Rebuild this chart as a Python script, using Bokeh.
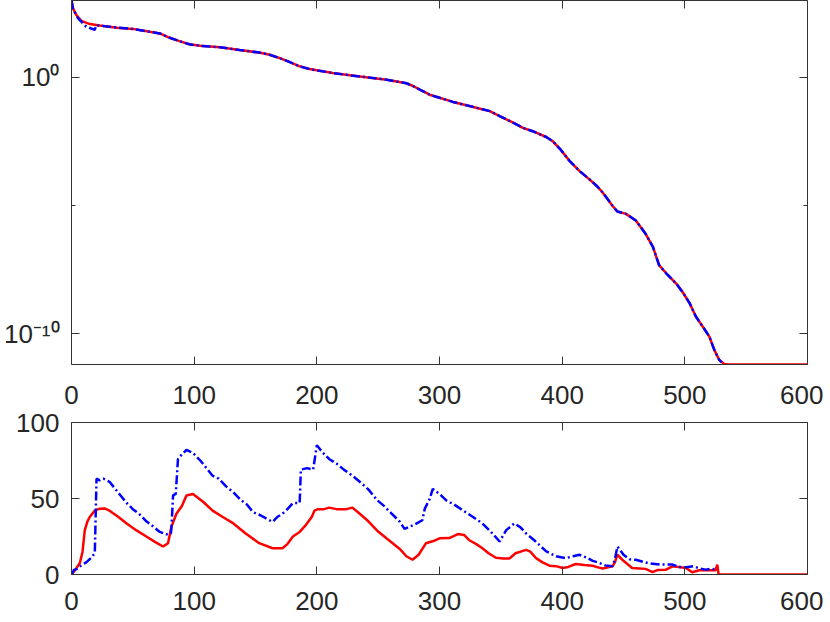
from bokeh.plotting import figure
from bokeh.layouts import column
from bokeh.models import FixedTicker, LinearAxis, LogAxis, Range1d
from bokeh.embed import file_html
from bokeh.resources import INLINE

# ---------------- data ----------------
# top panel: residual (log scale)
top_red_x = [0, 1.3, 4, 8, 15, 23, 37, 50, 64, 72, 80, 88, 96, 105, 121, 137, 153,
             161.5, 170, 178, 186, 194, 213, 227, 240, 257, 273, 278, 284, 292, 300,
             311, 322, 333, 341, 349, 360, 368, 376, 387, 392, 398, 406, 414, 422,
             428, 433, 441, 445, 452, 460, 468, 474, 479, 485, 493, 498, 504, 509,
             514.5, 520, 524, 528, 532, 536, 600]
top_red_y = [1.0e3, 4.9e2, 2.7e2, 1.6e2, 1.2e2, 1.05e2, 8.7e1, 7.8e1, 6.0e1, 5.2e1,
             3.5e1, 2.6e1, 1.95e1, 1.7e1, 1.5e1, 1.17e1, 9.3, 7.6, 5.6, 3.9, 2.7, 2.1,
             1.48, 1.2, 1.02, 0.81, 0.59, 0.47, 0.33, 0.21, 0.16, 0.11, 0.081, 0.060,
             0.048, 0.031, 0.017, 0.0107, 0.0079, 0.0047, 0.0033, 0.00166, 5.5e-4,
             2.24e-4, 1.07e-4, 5.9e-5, 3.2e-5, 9.8e-6, 5.8e-6, 4.7e-6, 2.6e-6, 7.8e-7,
             2.4e-7, 4.7e-8, 2.2e-8, 8.9e-9, 4.3e-9, 1.5e-9, 4.6e-10, 1.9e-10, 7.6e-11,
             2.3e-11, 9.5e-12, 6.5e-12, 6.2e-12, 6.2e-12]
top_blue_x = [0, 1.3, 5.4, 12, 19, 20, 23, 37, 50, 64, 72, 80, 88, 96, 105, 121, 137,
              153, 161.5, 170, 178, 186, 194, 213, 227, 240, 257, 273, 278, 284, 292,
              300, 311, 322, 333, 341, 349, 360, 368, 376, 387, 392, 398, 406, 414,
              422, 428, 433, 441, 445, 452, 460, 468, 474, 479, 485, 493, 498, 504,
              509, 514.5, 520, 524, 528, 530]
top_blue_y = [1.0e3, 4.5e2, 2.0e2, 9.5e1, 7.1e1, 1.07e2, 1.05e2, 8.7e1, 7.8e1, 6.0e1,
              5.2e1, 3.5e1, 2.6e1, 1.95e1, 1.7e1, 1.5e1, 1.17e1, 9.3, 7.6, 5.6, 3.9,
              2.7, 2.1, 1.48, 1.2, 1.02, 0.81, 0.59, 0.47, 0.33, 0.21, 0.16, 0.11,
              0.081, 0.060, 0.048, 0.031, 0.017, 0.0107, 0.0079, 0.0047, 0.0033,
              0.00166, 5.5e-4, 2.24e-4, 1.07e-4, 5.9e-5, 3.2e-5, 9.8e-6, 5.8e-6,
              4.7e-6, 2.6e-6, 7.8e-7, 2.4e-7, 4.7e-8, 2.2e-8, 8.9e-9, 4.3e-9, 1.5e-9,
              4.6e-10, 1.9e-10, 7.6e-11, 2.3e-11, 9.5e-12, 7.5e-12]

# bottom panel
bot_red_x = [0, 3, 6.8, 9, 10.8, 13, 15, 19, 23, 27, 31, 38, 45, 53, 61, 68, 74.6,
             78.7, 81.5, 85.5, 90, 93.7, 99, 107, 115, 123, 132, 142, 153, 164, 172,
             176, 180.5, 186, 191, 196, 198, 201, 206, 210, 216, 224, 229, 235, 242,
             249, 258, 267.4, 273, 278, 283, 289, 295, 300, 308, 315, 320, 324, 330,
             335, 340, 346, 352, 357, 362, 370.6, 374, 378.7, 384, 389.6, 395, 400.4,
             405, 411, 418, 424.8, 430, 433, 441, 443, 445, 450, 457, 463, 468, 473.7,
             478, 484.6, 490, 495, 501, 506, 511.7, 517, 525, 526.5, 527.5, 600]
bot_red_y = [0, 3, 7.6, 15, 29, 35, 38, 42, 43.3, 43.5, 42, 38, 33.6, 29, 25, 21.5,
             18.4, 20.6, 31.5, 40, 45, 52, 53, 48, 42, 38, 33.6, 27, 20.6, 17.3, 17.3,
             20, 25, 28, 32.5, 38, 42, 43, 43, 44, 43, 43, 44, 40, 35, 29, 23, 17, 12,
             9.7, 13, 20.6, 22, 23.8, 24, 26.6, 26, 22.7, 20, 17.3, 14, 11, 10.5, 10.5,
             14, 16.2, 15, 10.8, 8, 5.8, 5.5, 4.3, 5, 6.9, 6.3, 5.8, 4.5, 3.9, 5.4, 8,
             13, 9, 4.3, 4, 3.7, 1.5, 3, 3.2, 5.4, 5, 4.3, 1.5, 2.8, 2.8, 2.8, 6.5, 0, 0]
bot_blue_x = [0, 2, 4, 8, 12, 16, 19, 20.4, 23, 26, 31, 35, 40, 44.8, 50, 55, 61, 66,
              72, 77.4, 81, 81.5, 82.8, 85, 86.8, 90, 93.7, 99, 105, 110, 115, 120,
              126, 132, 138, 143, 148, 154, 159, 164, 168, 172, 176, 180.5, 186, 187,
              192, 197, 200, 205, 210, 216, 222, 229, 235, 242, 249, 255, 261, 267.4,
              271.5, 275.6, 280, 286, 288, 292, 294.5, 300, 305.5, 312, 319, 327, 335,
              342, 349, 354.4, 361, 366, 370.6, 378, 387, 395, 403, 409, 414, 420, 425,
              430.5, 435, 441, 443, 445, 450, 455, 460, 470, 480, 490, 495, 501, 507,
              512, 517, 522, 526]
bot_blue_y = [0, 3, 3.5, 6, 8, 11, 14, 63, 62, 63, 61, 57, 52, 47.2, 43, 40, 35, 32,
              28, 26.4, 27, 31, 52, 53, 76, 79, 82, 80, 75, 70, 65, 63, 58, 54, 49, 46,
              41, 39, 36.7, 34.6, 38, 40, 43, 47, 47, 69, 70, 69, 85, 80, 76, 73, 69,
              65, 61, 56, 49, 45, 40, 35, 30, 31.4, 33, 35.7, 43.3, 49.8, 56.3, 53,
              48.7, 46, 42.2, 38, 33.6, 28, 21.7, 29.2, 33.6, 31, 27, 22, 15.2, 12,
              10.8, 12, 13, 11, 9, 7.6, 6, 5.4, 10, 18.4, 13, 10, 9.7, 7.5, 6.5, 6.5,
              5, 4.8, 5.4, 4, 3.2, 3.8, 3.2]

x_ticks = [0, 100, 200, 300, 400, 500, 600]
top_y_ticks = [1e-10, 1.0]
top_y_minor = [1e-5]
top_y_labels = {1e-10: "10\u207b\u00b9\u2070", 1.0: "10\u2070"}
bot_y_ticks = [0, 50, 100]

# ---------------- styling ----------------
FONT = "Liberation Sans"
TXT = "#262626"
AX = "#333333"
FS = "26px"
RED = "#ff0000"
BLUE = "#0000ff"
DASHDOT = "9 3 2 3"
LW = 2.5


def style_axis(ax, labels=True, standoff=10):
    ax.axis_line_color = AX
    ax.axis_line_width = 1
    ax.major_tick_line_color = AX
    ax.minor_tick_line_color = AX
    ax.major_tick_in = 8
    ax.major_tick_out = 0
    ax.minor_tick_in = 4
    ax.minor_tick_out = 0
    ax.major_label_text_font = FONT
    if labels:
        ax.major_label_text_color = TXT
        ax.major_label_text_font_size = FS
        ax.major_label_standoff = standoff
    else:
        ax.major_label_text_color = None
        ax.major_label_text_font_size = "1px"
        ax.major_label_standoff = 0


def base(p):
    p.xgrid.grid_line_color = None
    p.ygrid.grid_line_color = None
    p.outline_line_color = None
    p.background_fill_color = "white"
    p.border_fill_color = "white"


FW = 736
# ---------------- top panel ----------------
p1 = figure(frame_width=FW, frame_height=364, y_axis_type="log",
            x_range=Range1d(0, 600), y_range=Range1d(6.2e-12, 1.0e3),
            output_backend="svg", toolbar_location=None,
            min_border_left=71, min_border_right=16, min_border_top=0,
            min_border_bottom=44)
base(p1)
p1.xaxis.ticker = FixedTicker(ticks=x_ticks, minor_ticks=[])
p1.yaxis.ticker = FixedTicker(ticks=top_y_ticks, minor_ticks=top_y_minor)
p1.yaxis.major_label_overrides = top_y_labels
style_axis(p1.xaxis[0], standoff=21)
style_axis(p1.yaxis[0], standoff=12)
ax_t = LinearAxis(ticker=FixedTicker(ticks=x_ticks, minor_ticks=[]))
style_axis(ax_t, labels=False)
p1.add_layout(ax_t, "above")
ax_r = LogAxis(ticker=FixedTicker(ticks=top_y_ticks, minor_ticks=top_y_minor))
style_axis(ax_r, labels=False)
p1.add_layout(ax_r, "right")

p1.line(top_red_x, top_red_y, line_color=RED, line_width=LW)
p1.line(top_blue_x, top_blue_y, line_color=BLUE, line_width=LW, line_dash=DASHDOT)

# ---------------- bottom panel ----------------
p2 = figure(frame_width=FW, frame_height=152,
            x_range=Range1d(0, 600), y_range=Range1d(0, 100),
            output_backend="svg", toolbar_location=None,
            min_border_left=71, min_border_right=16, min_border_top=14,
            min_border_bottom=44)
base(p2)
p2.xaxis.ticker = FixedTicker(ticks=x_ticks, minor_ticks=[])
p2.yaxis.ticker = FixedTicker(ticks=bot_y_ticks, minor_ticks=[])
style_axis(p2.xaxis[0], standoff=17)
style_axis(p2.yaxis[0], standoff=12)
ax_t2 = LinearAxis(ticker=FixedTicker(ticks=x_ticks, minor_ticks=[]))
style_axis(ax_t2, labels=False)
p2.add_layout(ax_t2, "above")
ax_r2 = LinearAxis(ticker=FixedTicker(ticks=bot_y_ticks, minor_ticks=[]))
style_axis(ax_r2, labels=False)
p2.add_layout(ax_r2, "right")

p2.line(bot_red_x, bot_red_y, line_color=RED, line_width=LW)
p2.line(bot_blue_x, bot_blue_y, line_color=BLUE, line_width=LW, line_dash=DASHDOT)

layout = column(p1, p2, spacing=0)
open("out.html", "w").write(file_html(layout, INLINE))
